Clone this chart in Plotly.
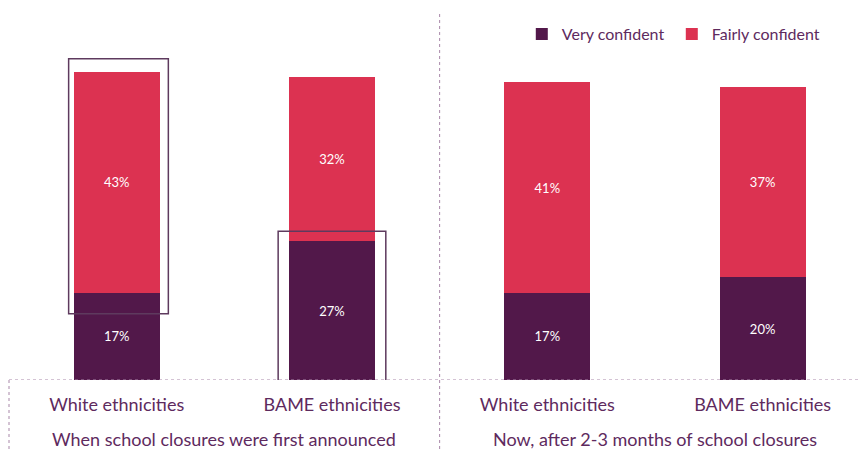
import plotly.graph_objects as go

# Confidence in supporting children's learning, by ethnicity and period
categories = ["White ethnicities", "BAME ethnicities", "White ethnicities", "BAME ethnicities"]
periods = ["When school closures were first announced", "Now, after 2-3 months of school closures"]
very_confident = [17, 27, 17, 20]
fairly_confident = [43, 32, 41, 37]

DARK = "#52184a"
RED = "#dc3251"
TEXT = "#5e2a5e"
DOT = "#a887a8"
FONT = "Lato"

x_pos = list(range(len(categories)))
bar_w = 0.4

fig = go.Figure()
fig.add_trace(go.Bar(
    x=x_pos, y=very_confident, name="Very confident", width=bar_w,
    marker=dict(color=DARK, line=dict(width=0)),
    text=[f"{v}%" for v in very_confident], textposition="inside",
    insidetextanchor="middle", textangle=0,
    textfont=dict(color="white", size=13, family=FONT),
))
fig.add_trace(go.Bar(
    x=x_pos, y=fairly_confident, name="Fairly confident", width=bar_w,
    marker=dict(color=RED, line=dict(width=0)),
    text=[f"{v}%" for v in fairly_confident], textposition="inside",
    insidetextanchor="middle", textangle=0,
    textfont=dict(color="white", size=13, family=FONT),
))

# Dotted frame: baseline, left edge below the axis, and the divider between periods
fig.add_shape(type="line", xref="paper", yref="y", x0=0, x1=1, y0=0, y1=0,
              line=dict(color=DOT, width=1, dash="dot"))
fig.add_shape(type="line", xref="paper", yref="paper", x0=0, x1=0, y0=0, y1=-0.2,
              line=dict(color=DOT, width=1, dash="dot"))
fig.add_shape(type="line", xref="x", yref="paper", x0=1.5, x1=1.5, y0=1, y1=-0.2,
              line=dict(color=DOT, width=1, dash="dot"))

# Highlight boxes around the segments being compared
total0 = very_confident[0] + fairly_confident[0]
fig.add_shape(type="rect", xref="x", yref="y",
              x0=0 - bar_w / 2 - 0.023, x1=0 + bar_w / 2 + 0.04,
              y0=very_confident[0] - 4.1, y1=total0 + 2.6,
              line=dict(color="#5e3a5e", width=1.5), fillcolor="rgba(0,0,0,0)")
fig.add_shape(type="rect", xref="x", yref="y",
              x0=1 - bar_w / 2 - 0.05, x1=1 + bar_w / 2 + 0.05,
              y0=-2, y1=very_confident[1] + 2,
              line=dict(color="#5e3a5e", width=1.5), fillcolor="rgba(0,0,0,0)")

# Period labels beneath each pair of bars
for i, label in enumerate(periods):
    fig.add_annotation(x=2 * i + 0.5, xref="x", y=-0.16, yref="paper",
                       text=label, showarrow=False, yanchor="middle",
                       font=dict(color=TEXT, size=18, family=FONT))

fig.update_layout(
    width=858, height=451,
    margin=dict(l=9, r=0, t=14, b=71, autoexpand=False),
    barmode="stack",
    plot_bgcolor="white", paper_bgcolor="white",
    font=dict(family=FONT, color=TEXT),
    showlegend=True,
    legend=dict(orientation="h", x=0.604, xanchor="left", y=0.945, yanchor="middle",
                font=dict(size=16, color=TEXT, family=FONT),
                entrywidth=105, entrywidthmode="pixels",
                bgcolor="rgba(0,0,0,0)", traceorder="normal"),
    xaxis=dict(range=[-0.5, 3.443], tickvals=x_pos, ticktext=categories,
               showgrid=False, zeroline=False, showline=False, ticks="",
               ticklabelstandoff=12,
               tickfont=dict(size=18, color=TEXT, family=FONT)),
    yaxis=dict(range=[0, 71.3], visible=False),
)

fig.write_html("out.html")
